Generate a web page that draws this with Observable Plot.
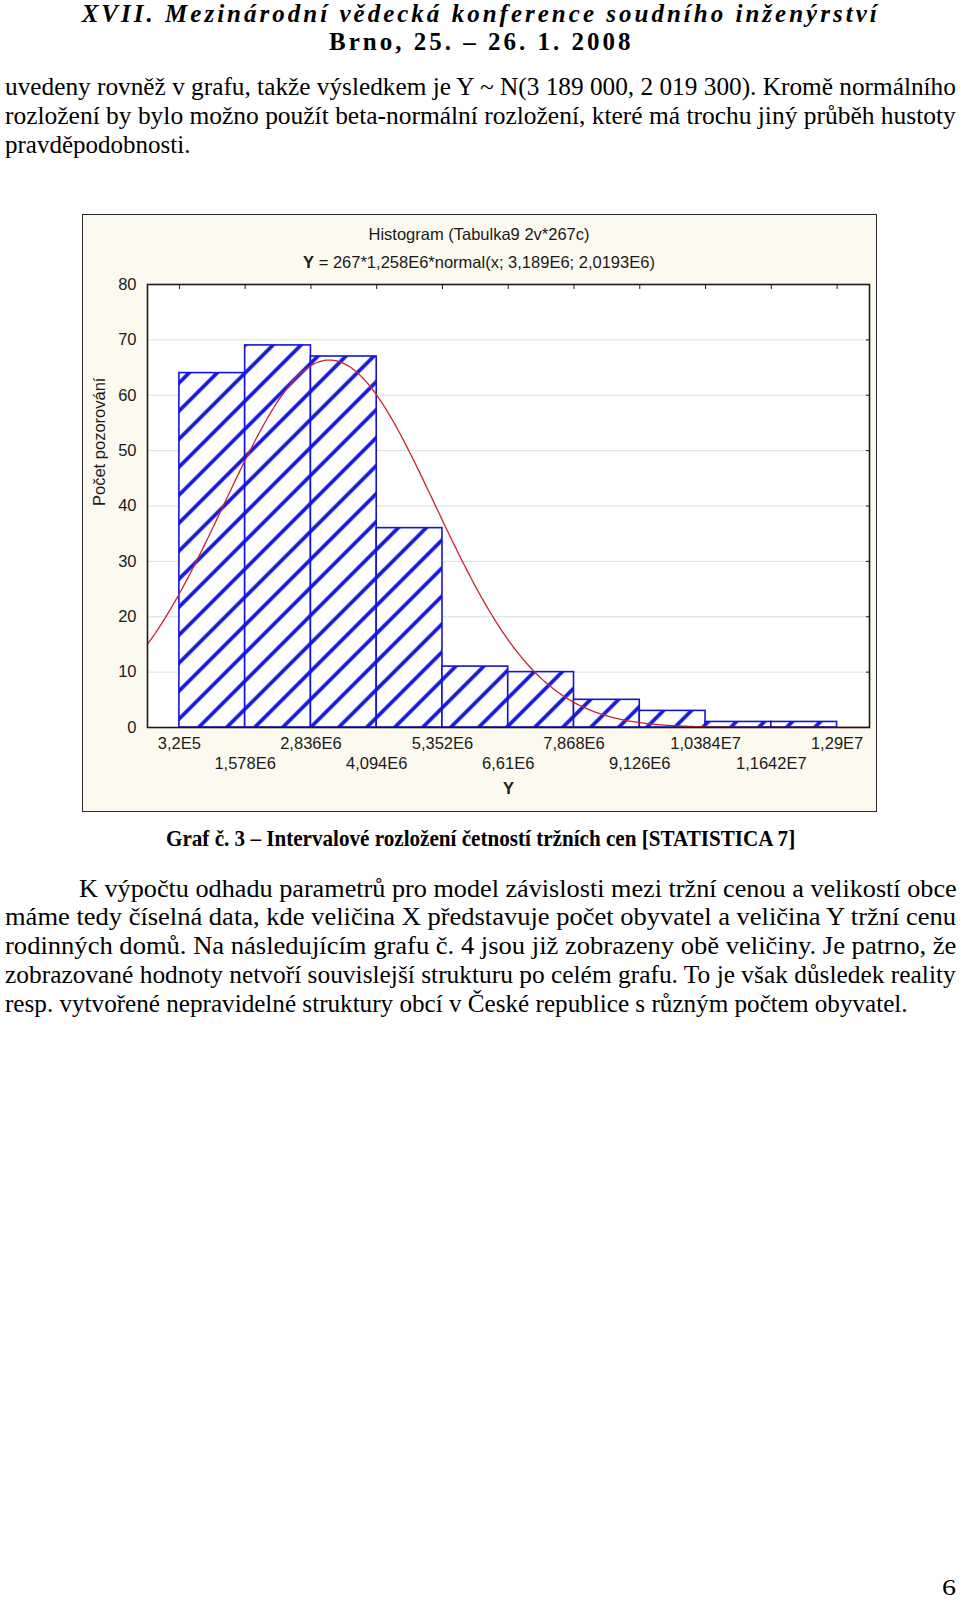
<!DOCTYPE html>
<html>
<head>
<meta charset="utf-8">
<script src="https://cdn.jsdelivr.net/npm/d3@7"></script>
<script src="https://cdn.jsdelivr.net/npm/@observablehq/plot@0.6"></script>
<style>
html, body { margin: 0; padding: 0; background: #fff; }
body { width: 960px; height: 1601px; position: relative; overflow: hidden;
  font-family: "Liberation Serif", "Times New Roman", serif; color: #000; }
.ln { position: absolute; white-space: pre; line-height: 1; transform-origin: 0 0; }
#chartbox { position: absolute; left: 81.5px; top: 213.5px; width: 795px; height: 598px; background: #fcf9ee; }
#chartbox::after { content: ""; position: absolute; inset: 0; border: 1.5px solid #2a2a2a; pointer-events: none; }
#chartbox svg { position: absolute; left: 0; top: 0; }
.ctitle { position: absolute; left: 0; width: 795px; text-align: center; font-family: "Liberation Sans", Arial, sans-serif;
  font-size: 16.5px; line-height: 1; color: #1a1a1a; }
</style>
</head>
<body>
<div id="chartbox">
  <div class="ctitle" style="top:12px">Histogram (Tabulka9 2v*267c)</div>
  <div class="ctitle" style="top:40.5px"><b>Y</b> = 267*1,258E6*normal(x; 3,189E6; 2,0193E6)</div>
</div>
<script>
// ---- chart data ----
const binEdges = [320000, 1578000, 2836000, 4094000, 5352000, 6610000, 7868000, 9126000, 10384000, 11642000, 12900000];
const counts = [64, 69, 67, 36, 11, 10, 5, 3, 1, 1];
const tickLabels = ["3,2E5", "1,578E6", "2,836E6", "4,094E6", "5,352E6", "6,61E6", "7,868E6", "9,126E6", "1,0384E7", "1,1642E7", "1,29E7"];
const yTicks = [0, 10, 20, 30, 40, 50, 60, 70, 80];
// fitted normal curve parameters as printed in the chart subtitle
const fitN = 267, fitBinWidth = 1.258e6, fitMean = 3.189e6, fitSd = 2.0193e6;
const xDomain = [-290000, 13520000];

// ---- page text ----
const headerLine1 = "XVII. Mezinárodní vědecká konference soudního inženýrství";
const headerLine2 = "Brno, 25. – 26. 1. 2008";
const introLines = [
  "uvedeny rovněž v grafu, takže výsledkem je Y ~ N(3 189 000, 2 019 300). Kromě normálního",
  "rozložení by bylo možno použít beta-normální rozložení, které má trochu jiný průběh hustoty",
  "pravděpodobnosti."
];
const captionText = "Graf č. 3 – Intervalové rozložení četností tržních cen [STATISTICA 7]";
const paraLines = [
  "K výpočtu odhadu parametrů pro model závislosti mezi tržní cenou a velikostí obce",
  "máme tedy číselná data, kde veličina X představuje počet obyvatel a veličina Y tržní cenu",
  "rodinných domů. Na následujícím grafu č. 4 jsou již zobrazeny obě veličiny. Je patrno, že",
  "zobrazované hodnoty netvoří souvislejší strukturu po celém grafu. To je však důsledek reality",
  "resp. vytvořené nepravidelné struktury obcí v České republice s různým počtem obyvatel."
];
const pageNumber = "6";

// ---- text placement helper ----
function placeLine(text, o) {
  const el = document.createElement("div");
  el.className = "ln";
  el.textContent = text;
  el.style.fontSize = o.size + "px";
  if (o.weight) el.style.fontWeight = o.weight;
  if (o.italic) el.style.fontStyle = "italic";
  document.body.appendChild(el);
  let sx = o.sx ?? 1;
  const natural = el.offsetWidth;
  if (o.width) {
    if (o.mode === "letter") {
      const n = [...text].length;
      const extra = o.width / sx - natural;
      el.style.letterSpacing = (extra / (n - 1)) + "px";
    } else {
      sx = o.width / natural;
    }
  }
  el.style.transform = `scaleX(${sx})`;
  el.style.left = o.x + "px";
  el.style.top = (o.cy - 0.51 * o.size) + "px";
}

placeLine(headerLine1, {x: 81.7, cy: 13.5, size: 25, weight: "bold", italic: true, width: 794.6, mode: "letter"});
placeLine(headerLine2, {x: 329, cy: 42, size: 25, weight: "bold", width: 301, mode: "letter"});
const introY = [87, 115.5, 144.5];
const introW = [951, 951, 185];
introLines.forEach((t, i) => placeLine(t, {x: 5, cy: introY[i], size: 25, width: introW[i]}));
placeLine(captionText, {x: 165.5, cy: 838, size: 24, weight: "bold", width: 629});
const paraY = [888.5, 917, 946, 975, 1004];
const paraX = [78.6, 5, 5, 5, 5];
const paraW = [877.4, 951, 951, 951, 903];
paraLines.forEach((t, i) => placeLine(t, {x: paraX[i], cy: paraY[i], size: 25, width: paraW[i]}));
placeLine(pageNumber, {x: 942, cy: 1587, size: 24, width: 14});

// ---- chart ----
const bins = counts.map((c, i) => ({x0: binEdges[i], x1: binEdges[i + 1], count: c}));
const labelOf = new Map(binEdges.map((e, i) => [e, tickLabels[i]]));
const evenEdges = binEdges.filter((d, i) => i % 2 === 0);
const oddEdges = binEdges.filter((d, i) => i % 2 === 1);
const curvePts = d3.range(0, 401).map(i => {
  const x = xDomain[0] + (xDomain[1] - xDomain[0]) * i / 400;
  const z = (x - fitMean) / fitSd;
  return {x, y: fitN * fitBinWidth * Math.exp(-0.5 * z * z) / (fitSd * Math.sqrt(2 * Math.PI))};
});

const chart = Plot.plot({
  width: 795,
  height: 598,
  marginLeft: 65,
  marginRight: 8,
  marginTop: 70,
  marginBottom: 85,
  style: {background: "transparent", fontFamily: "Liberation Sans, Arial, sans-serif", fontSize: "16.5px", color: "#1a1a1a"},
  x: {domain: xDomain, label: null},
  y: {domain: [0, 80], label: null},
  marks: [
    Plot.frame({fill: "white", stroke: null}),
    Plot.gridY(yTicks.filter(d => d > 0 && d < 80), {stroke: "#dedede", strokeOpacity: 1}),
    Plot.rectY(bins, {x1: "x0", x2: "x1", y: "count", fill: "url(#hatch)", stroke: "#1414dc", strokeWidth: 1.6}),
    Plot.line(curvePts, {x: "x", y: "y", stroke: "#c4262e", strokeWidth: 1.3, clip: true}),
    Plot.frame({stroke: "#1a1a1a", strokeWidth: 1.6}),
    Plot.axisY(yTicks, {anchor: "left", tickSize: 0, tickPadding: 11, tickFormat: d => String(d)}),
    Plot.axisY(yTicks.filter(d => d > 0 && d < 80), {anchor: "right", tickSize: 4, insetRight: 4, tickFormat: () => ""}),
    Plot.axisX(binEdges, {anchor: "top", tickSize: 4, insetTop: 4, tickFormat: () => ""}),
    Plot.axisX(evenEdges, {anchor: "bottom", tickSize: 0, tickPadding: 10, tickFormat: d => labelOf.get(d)}),
    Plot.axisX(oddEdges, {anchor: "bottom", tickSize: 0, tickPadding: 30, tickFormat: d => labelOf.get(d)}),
    Plot.text(["Y"], {frameAnchor: "bottom", dy: 66, fontWeight: "bold", text: d => d}),
    Plot.text(["Počet pozorování"], {frameAnchor: "left", dx: -48, rotate: -90, text: d => d})
  ]
});

const ns = "http://www.w3.org/2000/svg";
const defs = document.createElementNS(ns, "defs");
defs.innerHTML = '<pattern id="hatch" patternUnits="userSpaceOnUse" width="19.8" height="19.8" patternTransform="rotate(45)">' +
  '<rect width="19.8" height="19.8" fill="#ffffff"/>' +
  '<line x1="9.9" y1="-1" x2="9.9" y2="21" stroke="#1414e6" stroke-width="3.6"/></pattern>';
chart.insertBefore(defs, chart.firstChild);
document.getElementById("chartbox").appendChild(chart);
</script>
</body>
</html>
